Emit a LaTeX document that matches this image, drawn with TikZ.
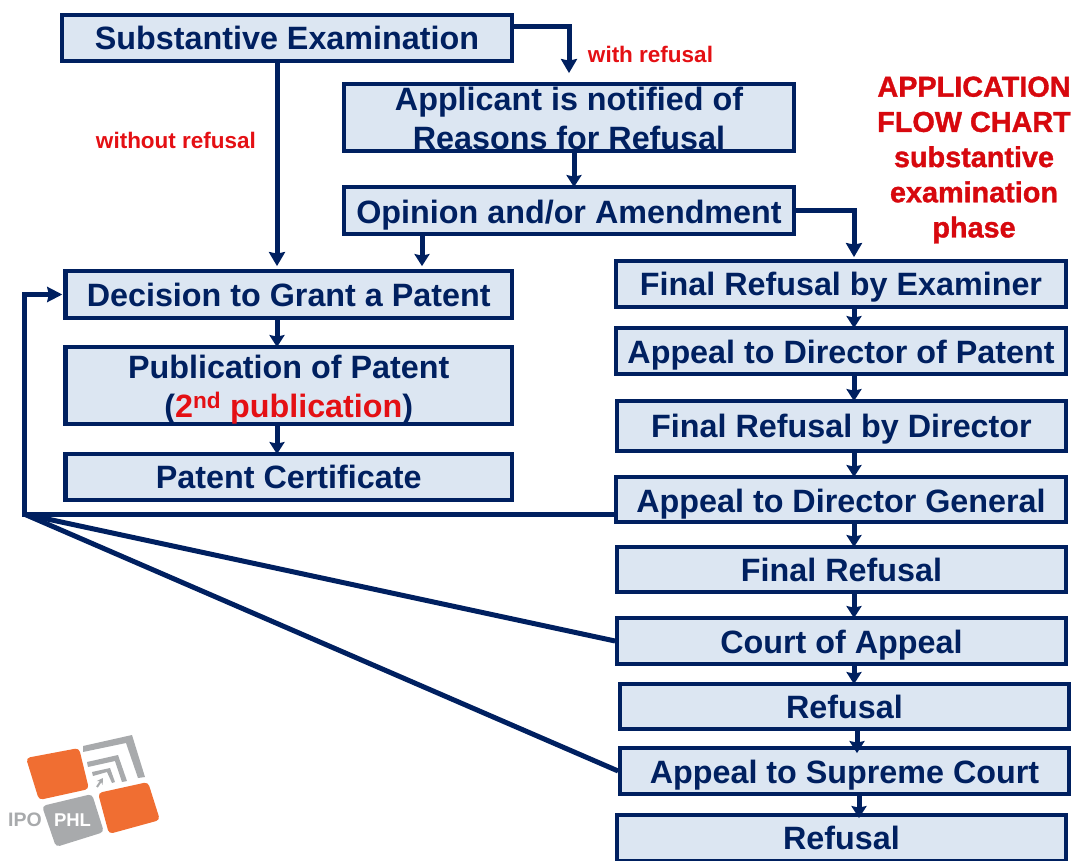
\documentclass[tikz,border=0pt]{standalone}
\usepackage{fontspec}
\setmainfont{Liberation Sans}
\newfontfamily\titlefont[BoldFeatures={FakeBold=1.2}]{Liberation Sans}
\usetikzlibrary{arrows.meta}
\definecolor{navy}{RGB}{0,32,96}
\definecolor{boxblue}{RGB}{220,230,242}
\definecolor{labelred}{RGB}{228,16,20}
\definecolor{titlered}{RGB}{215,8,14}
\definecolor{logoorange}{RGB}{240,110,50}
\definecolor{logogray}{RGB}{168,170,172}
\tikzset{
    flowbox/.style={draw=navy, fill=boxblue, line width=4.3pt, text=navy, inner sep=0pt, align=center,
        font=\fontsize{32.3}{39}\selectfont\bfseries, text height=23pt, text depth=0pt},
    twoline/.style={text height=, text depth=, inner ysep=-3pt},
    lower/.style={text height=25pt},
    small/.style={text=labelred, font=\fontsize{22.5}{26}\selectfont\bfseries, inner sep=0pt},
    link/.style={draw=navy, line width=5pt},
    linkarrow/.style={link, -{Stealth[length=14pt,width=16pt,inset=1.5pt]}},
    stub/.style={link, -{Stealth[length=12pt,width=15pt,inset=1.5pt]}},
}
\begin{document}
\begin{tikzpicture}[x=1pt,y=-1pt]
    \useasboundingbox (0,0) rectangle (1076,861);
    % left column
    \node[flowbox, minimum width=450pt, minimum height=46pt] (subst) at (287,38) {Substantive Examination};
    \node[flowbox, minimum width=446.5pt, minimum height=46.5pt] (decide) at (288.7,294.5) {Decision to Grant a Patent};
    \node[flowbox, twoline, minimum width=446.5pt, minimum height=76.5pt] (publish) at (288.7,385.5) {\rule{0pt}{32pt}Publication of Patent\\({\color{labelred}2\textsuperscript{nd} publication})};
    \node[flowbox, minimum width=446.5pt, minimum height=45.5pt] (certif) at (288.7,477) {Patent Certificate};
    % middle column
    \node[flowbox, twoline, minimum width=449.5pt, minimum height=66.5pt] (notify) at (569,117.5) {\rule{0pt}{26pt}Applicant is notified of\\Reasons for Refusal};
    \node[flowbox, text height=27pt, minimum width=449.5pt, minimum height=46.5pt] (opinion) at (569,210.5) {Opinion and/or Amendment};
    % right column
    \node[flowbox, minimum width=449.5pt, minimum height=45.5pt] (exam) at (841,284) {Final Refusal by Examiner};
    \node[flowbox, lower, minimum width=449.5pt, minimum height=45.5pt] (dirpat) at (841,351) {Appeal to Director of Patent};
    \node[flowbox, minimum width=448.5pt, minimum height=49.5pt] (refdir) at (841.5,426) {Final Refusal by Director};
    \node[flowbox, lower, minimum width=449.5pt, minimum height=44.5pt] (dirgen) at (841,499.5) {Appeal to Director General};
    \node[flowbox, minimum width=448.5pt, minimum height=44.5pt] (finalref) at (841.5,569.5) {Final Refusal};
    \node[flowbox, lower, minimum width=448.5pt, minimum height=45.5pt] (court) at (841.5,641) {Court of Appeal};
    \node[flowbox, minimum width=448.5pt, minimum height=44.5pt] (ref1) at (844.5,706.5) {Refusal};
    \node[flowbox, lower, minimum width=448.5pt, minimum height=45.5pt] (supreme) at (844.5,771) {Appeal to Supreme Court};
    \node[flowbox, minimum width=448.5pt, minimum height=45.5pt] (ref2) at (841.5,838) {Refusal};
    % labels
    \node[small] (withref) at (650.5,54) {with refusal};
    \node[small] (without) at (176,140) {without refusal};
    \node[text=titlered, align=center, inner sep=0pt, font=\titlefont\fontsize{28.8}{35.2}\selectfont\bfseries] (title) at (974,160)
        {APPLICATION\\FLOW CHART\\substantive\\examination\\phase};
    % connectors
    \coordinate (xa) at (277,0);
    \coordinate (xb) at (569,0);
    \coordinate (xc) at (574,0);
    \coordinate (xd) at (422,0);
    \coordinate (xe) at (854,0);
    \coordinate (xf) at (857,0);
    \coordinate (xg) at (859,0);
    \coordinate (corner) at (24,514);
    \draw[linkarrow, shorten >=3pt] (xa |- subst.south) -- (xa |- decide.north);
    \draw[linkarrow, shorten >=9pt, line join=miter] (subst.east |- 0,27) -| (xb |- notify.north);
    \draw[stub, shorten >=-2pt] (xc |- notify.south) -- (xc |- opinion.north);
    \draw[stub, shorten >=3pt] (xd |- opinion.south) -- (xd |- decide.north);
    \draw[linkarrow, shorten >=2pt, line join=miter] (opinion.east) -| (xe |- exam.north);
    \draw[stub, shorten >=-2pt] (xa |- decide.south) -- (xa |- publish.north);
    \draw[stub, shorten >=-2pt] (xa |- publish.south) -- (xa |- certif.north);
    \foreach \a/\b in {exam/dirpat,dirpat/refdir,refdir/dirgen,dirgen/finalref,finalref/court,court/ref1}
        \draw[stub, shorten >=-2pt] (xe |- \a.south) -- (xe |- \b.north);
    \draw[stub, shorten >=-7pt] (xf |- ref1.south) -- (xf |- supreme.north);
    \draw[stub, shorten >=-5pt] (xg |- supreme.south) -- (xg |- ref2.north);
    \draw[link, -{Stealth[length=15pt,width=15pt,inset=1.5pt]}, line join=miter, shorten >=1pt] (dirgen.west |- corner) -- (corner) |- (decide.west);
    \draw[link] (court.west) -- (corner);
    \draw[link] (supreme.west) -- (corner);
    % logo
    \fill[logoorange, rounded corners=4pt] (26,758) -- (79,748) -- (89,789) -- (39,800) -- cycle;
    \fill[logoorange, rounded corners=4pt] (98,793) -- (148,782) -- (160,820) -- (109,834) -- cycle;
    \fill[logogray, rounded corners=4pt] (42,806) -- (92,794) -- (104,832) -- (56,847) -- cycle;
    \fill[logogray] (83,746) -- (132,735) -- (145,777) -- (138,778) -- (126,743) -- (83,752) -- cycle;
    \fill[logogray] (87,762) -- (118,755) -- (127,781) -- (122,782) -- (115,761) -- (88,767) -- cycle;
    \fill[logogray] (92,772) -- (110,768) -- (115,782) -- (112,783) -- (107,772) -- (93,776) -- cycle;
    \draw[logogray, line width=2pt, -{Stealth[length=6pt,width=7pt]}] (97,787) -- (103,778);
    \node[text=logogray, font=\fontsize{19.5}{22}\selectfont\bfseries, inner sep=0pt] (ipo) at (25,820) {IPO};
    \node[text=white, font=\fontsize{18.5}{22}\selectfont\bfseries, inner sep=0pt] (phl) at (72.5,820) {PHL};
\end{tikzpicture}
\end{document}
